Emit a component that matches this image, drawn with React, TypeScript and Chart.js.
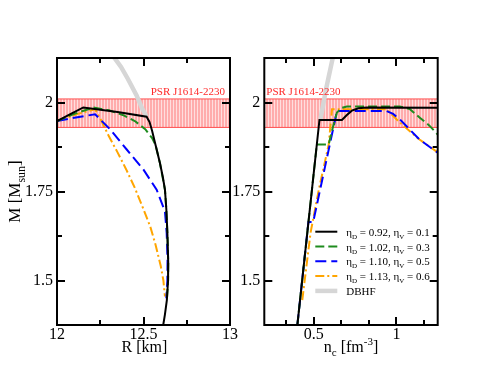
import React, { useEffect, useRef } from 'react';
import { Chart, registerables } from 'chart.js';

Chart.register(...registerables);

const FONT = '"Liberation Serif", "DejaVu Serif", serif';

// ---------- Left panel: M vs R ----------
const rBlack = [12.0, 12.08, 12.152, 12.35, 12.518, 12.535, 12.55, 12.57, 12.595, 12.612, 12.624, 12.632, 12.638, 12.643, 12.642, 12.635, 12.624, 12.614];
const mBlack = [1.948, 1.968, 1.986, 1.973, 1.96, 1.945, 1.92, 1.88, 1.83, 1.79, 1.755, 1.7, 1.634, 1.55, 1.5, 1.445, 1.405, 1.375];
const rGreen = [12.0, 12.1, 12.21, 12.3, 12.38, 12.45, 12.51, 12.55, 12.57, 12.595, 12.624, 12.632, 12.638, 12.643, 12.642, 12.635];
const mGreen = [1.948, 1.968, 1.986, 1.978, 1.965, 1.948, 1.925, 1.9, 1.88, 1.83, 1.755, 1.7, 1.634, 1.55, 1.5, 1.445];
const rBlue = [12.0, 12.1, 12.22, 12.306, 12.403, 12.499, 12.576, 12.624, 12.634, 12.639, 12.638, 12.632];
const mBlue = [1.948, 1.957, 1.967, 1.925, 1.868, 1.812, 1.755, 1.694, 1.634, 1.557, 1.5, 1.45];
const rOrange = [12.0, 12.12, 12.22, 12.25, 12.3, 12.35, 12.4, 12.45, 12.5, 12.54, 12.57, 12.6, 12.615, 12.624];
const mOrange = [1.948, 1.968, 1.981, 1.955, 1.905, 1.86, 1.812, 1.76, 1.7, 1.65, 1.6, 1.54, 1.5, 1.455];
const rDbhf = [12.31, 12.37, 12.41, 12.46, 12.49, 12.518];
const mDbhf = [2.14, 2.1, 2.066, 2.02, 1.985, 1.96];

// ---------- Right panel: M vs n_c ----------
const nBlack = [0.4, 0.534, 0.67, 0.7, 0.73, 0.77, 0.82, 1.25];
const mBlackN = [1.374, 1.951, 1.951, 1.965, 1.977, 1.984, 1.986, 1.985];
const nGreen = [0.4, 0.518, 0.59, 0.615, 0.64, 0.67, 0.7, 1.02, 1.08, 1.14, 1.2, 1.25];
const mGreenN = [1.374, 1.882, 1.882, 1.93, 1.972, 1.985, 1.989, 1.989, 1.982, 1.958, 1.935, 1.91];
const nBlue = [0.4, 0.467, 0.496, 0.64, 0.94, 0.98, 1.02, 1.14, 1.25];
const mBlueN = [1.374, 1.664, 1.664, 1.976, 1.976, 1.968, 1.953, 1.896, 1.859];
const nOrange = [0.43, 0.48, 0.53, 0.59, 0.61, 0.94, 1.02, 1.14, 1.25];
const mOrangeN = [1.445, 1.634, 1.755, 1.882, 1.981, 1.981, 1.944, 1.896, 1.86];
const nDbhf = [0.54, 0.575, 0.62];
const mDbhfN = [1.953, 2.04, 2.137];

// ---------- Band, ranges, ticks, legend ----------
const psrLow = 1.93;
const psrHigh = 2.01;
const psrLabel = 'PSR J1614-2230';
const rRange = [12, 13];
const nRange = [0.2, 1.25];
const mRange = [1.375, 2.125];
const rMajor = [12, 12.5, 13];
const rMinor = [12.25, 12.75];
const nMajor = [0.5, 1];
const nMinor = [1 / 3, 2 / 3, 5 / 6, 7 / 6];
const mMajor = [1.5, 1.75, 2];
const mMinor = [1.625, 1.875];
const etaD = ['0.92', '1.02', '1.10', '1.13'];
const etaV = ['0.1', '0.3', '0.5', '0.6'];
const dbhfLabel = 'DBHF';

const COLORS = { black: '#000000', green: '#1e8c1e', blue: '#0000ff', orange: '#ffa500', gray: '#d6d6d6', red: '#ff2a2a' };
const DASH = { black: [] as number[], green: [9, 4], blue: [11, 5], orange: [9, 3, 2, 3], gray: [] as number[] };

type Seg = { t: string; sub?: boolean; sup?: boolean };

function drawRich(ctx: CanvasRenderingContext2D, segs: Seg[], x: number, y: number, size: number, align: 'left' | 'center') {
  const small = Math.round(size * 0.68);
  let total = 0;
  segs.forEach((s) => {
    ctx.font = `${s.sub || s.sup ? small : size}px ${FONT}`;
    total += ctx.measureText(s.t).width;
  });
  let cx = align === 'center' ? x - total / 2 : x;
  ctx.textAlign = 'left';
  ctx.textBaseline = 'alphabetic';
  segs.forEach((s) => {
    ctx.font = `${s.sub || s.sup ? small : size}px ${FONT}`;
    const dy = s.sub ? size * 0.28 : s.sup ? -size * 0.42 : 0;
    ctx.fillText(s.t, cx, y + dy);
    cx += ctx.measureText(s.t).width;
  });
}

const pts = (xs: number[], ys: number[]) => xs.map((x, i) => ({ x, y: ys[i] }));

function makePattern(ctx: CanvasRenderingContext2D) {
  const c = document.createElement('canvas');
  c.width = 3;
  c.height = 3;
  const g = c.getContext('2d')!;
  g.fillStyle = 'rgb(255,172,172)';
  g.fillRect(0, 0, 3, 3);
  g.fillStyle = 'rgb(255,222,222)';
  g.fillRect(2, 0, 1, 3);
  return ctx.createPattern(c, 'repeat');
}

function lineDs(data: { x: number; y: number }[], color: string, dash: number[], width = 2) {
  return {
    data,
    borderColor: color,
    backgroundColor: color,
    borderWidth: width,
    borderDash: dash,
    pointRadius: 0,
    tension: 0,
    fill: false,
  };
}

function buildDatasets(ctx: CanvasRenderingContext2D, xr: number[], curves: any) {
  const pattern = makePattern(ctx);
  return [
    lineDs(curves.black, COLORS.black, DASH.black),
    lineDs(curves.green, COLORS.green, DASH.green),
    lineDs(curves.blue, COLORS.blue, DASH.blue),
    lineDs(curves.orange, COLORS.orange, DASH.orange),
    lineDs(curves.gray, COLORS.gray, DASH.gray, 4.5),
    {
      data: pts(xr, [psrHigh, psrHigh]),
      borderColor: '#ff5050',
      borderWidth: 1,
      pointRadius: 0,
      fill: false,
    },
    {
      data: pts(xr, [psrLow, psrLow]),
      borderColor: '#ff5050',
      borderWidth: 1,
      pointRadius: 0,
      fill: '-1',
      backgroundColor: pattern,
    },
  ];
}

function options(xr: number[], xMajor: number[], yWidth: number, rightPad: number): any {
  const tickFont = { family: FONT, size: 16, lineHeight: 1 };
  return {
    responsive: false,
    animation: false,
    devicePixelRatio: 1,
    layout: { padding: { left: 0, right: rightPad, top: 58, bottom: 0 } },
    plugins: { legend: { display: false }, tooltip: { enabled: false }, title: { display: false } },
    scales: {
      x: {
        type: 'linear',
        min: xr[0],
        max: xr[1],
        grid: { display: false, drawTicks: false },
        border: { display: false },
        afterBuildTicks: (s: any) => {
          s.ticks = xMajor.map((v) => ({ value: v }));
        },
        afterFit: (s: any) => {
          s.height = 58;
        },
        ticks: { callback: (v: any) => String(v), color: '#000', font: tickFont, padding: 2, maxRotation: 0, autoSkip: false },
      },
      y: {
        type: 'linear',
        min: mRange[0],
        max: mRange[1],
        grid: { display: false, drawTicks: false },
        border: { display: false },
        afterBuildTicks: (s: any) => {
          s.ticks = mMajor.map((v) => ({ value: v }));
        },
        afterFit: (s: any) => {
          s.width = yWidth;
        },
        ticks: { callback: (v: any) => String(v), color: '#000', font: tickFont, padding: 4, autoSkip: false },
      },
    },
  };
}

function panelPlugin(cfg: { xMajor: number[]; xMinor: number[]; left: boolean }) {
  return {
    id: 'panelDecor',
    afterDatasetsDraw(chart: any) {
      const { ctx, chartArea: a, scales } = chart;
      const xs = scales.x;
      const ys = scales.y;
      ctx.save();
      ctx.strokeStyle = '#000';
      ctx.lineWidth = 2;
      ctx.setLineDash([]);
      ctx.beginPath();
      const xt = (vals: number[], len: number) =>
        vals.forEach((v) => {
          const p = Math.round(xs.getPixelForValue(v));
          if (p <= a.left + 1 || p >= a.right - 1) return;
          ctx.moveTo(p, a.bottom);
          ctx.lineTo(p, a.bottom - len);
          ctx.moveTo(p, a.top);
          ctx.lineTo(p, a.top + len);
        });
      const yt = (vals: number[], len: number) =>
        vals.forEach((v) => {
          const p = Math.round(ys.getPixelForValue(v));
          if (p <= a.top + 1 || p >= a.bottom - 1) return;
          ctx.moveTo(a.left, p);
          ctx.lineTo(a.left + len, p);
          ctx.moveTo(a.right, p);
          ctx.lineTo(a.right - len, p);
        });
      xt(cfg.xMajor, 8);
      xt(cfg.xMinor, 5);
      yt(mMajor, 8);
      yt(mMinor, 5);
      ctx.stroke();
      ctx.strokeRect(a.left, a.top, a.right - a.left, a.bottom - a.top);

      // PSR label
      ctx.fillStyle = COLORS.red;
      ctx.font = `11px ${FONT}`;
      ctx.textBaseline = 'alphabetic';
      const py = ys.getPixelForValue(psrHigh) - 4;
      if (cfg.left) {
        ctx.textAlign = 'right';
        ctx.fillText(psrLabel, a.right - 5, py);
      } else {
        ctx.textAlign = 'left';
        ctx.fillText(psrLabel, a.left + 2, py);
      }

      ctx.fillStyle = '#000';
      const cx = (a.left + a.right) / 2;
      if (cfg.left) {
        drawRich(ctx, [{ t: 'R [km]' }], cx + 1, 352, 16, 'center');
        ctx.save();
        ctx.translate(20, (a.top + a.bottom) / 2);
        ctx.rotate(-Math.PI / 2);
        drawRich(ctx, [{ t: 'M [M' }, { t: 'sun', sub: true }, { t: ']' }], 0, 0, 17, 'center');
        ctx.restore();
      } else {
        drawRich(ctx, [{ t: 'n' }, { t: 'c', sub: true }, { t: ' [fm' }, { t: '-3', sup: true }, { t: ']' }], cx, 352, 16, 'center');
        // legend
        const keys = ['black', 'green', 'blue', 'orange', 'gray'] as const;
        keys.forEach((k, i) => {
          const y = 231.7 + 14.8 * i;
          ctx.save();
          ctx.strokeStyle = (COLORS as any)[k];
          ctx.lineWidth = k === 'gray' ? 4.5 : 2;
          ctx.setLineDash((DASH as any)[k]);
          ctx.beginPath();
          ctx.moveTo(a.left + 51, y);
          ctx.lineTo(a.left + 73, y);
          ctx.stroke();
          ctx.restore();
          ctx.fillStyle = '#000';
          const segs: Seg[] =
            i < 4
              ? [
                  { t: '\u03b7' },
                  { t: 'D', sub: true },
                  { t: ' = ' + etaD[i] + ', \u03b7' },
                  { t: 'V', sub: true },
                  { t: ' = ' + etaV[i] },
                ]
              : [{ t: dbhfLabel }];
          drawRich(ctx, segs, a.left + 82, y + 4, 11, 'left');
        });
      }
      ctx.restore();
    },
  };
}

export default function App() {
  const leftRef = useRef<HTMLCanvasElement>(null);
  const rightRef = useRef<HTMLCanvasElement>(null);

  useEffect(() => {
    const lc = leftRef.current!.getContext('2d')!;
    const rc = rightRef.current!.getContext('2d')!;
    const left = new Chart(lc, {
      type: 'line',
      data: {
        datasets: buildDatasets(lc, rRange, {
          black: pts(rBlack, mBlack),
          green: pts(rGreen, mGreen),
          blue: pts(rBlue, mBlue),
          orange: pts(rOrange, mOrange),
          gray: pts(rDbhf, mDbhf),
        }) as any,
      },
      options: options(rRange, rMajor, 57, 17),
      plugins: [panelPlugin({ xMajor: rMajor, xMinor: rMinor, left: true })],
    });
    const right = new Chart(rc, {
      type: 'line',
      data: {
        datasets: buildDatasets(rc, nRange, {
          black: pts(nBlack, mBlackN),
          green: pts(nGreen, mGreenN),
          blue: pts(nBlue, mBlueN),
          orange: pts(nOrange, mOrangeN),
          gray: pts(nDbhf, mDbhfN),
        }) as any,
      },
      options: options(nRange, nMajor, 64.3, 57.3),
      plugins: [panelPlugin({ xMajor: nMajor, xMinor: nMinor, left: false })],
    });
    return () => {
      left.destroy();
      right.destroy();
    };
  }, []);

  return (
    <div style={{ position: 'fixed', left: 0, top: 0, width: 495, height: 383, background: '#fff' }}>
      <canvas ref={leftRef} width={247} height={383} style={{ position: 'absolute', left: 0, top: 0, width: 247, height: 383 }} />
      <canvas ref={rightRef} width={295} height={383} style={{ position: 'absolute', left: 200, top: 0, width: 295, height: 383 }} />
    </div>
  );
}
